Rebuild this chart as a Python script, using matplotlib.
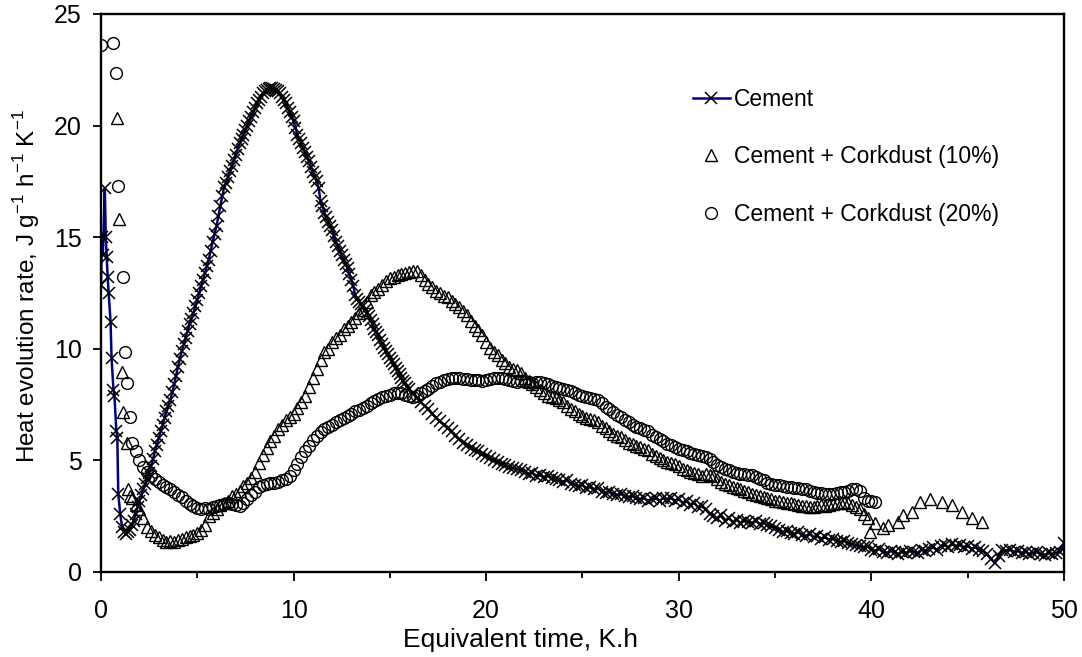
# Heat evolution rate of cement and cement + corkdust pastes

import matplotlib
matplotlib.use('Agg')
import matplotlib.pyplot as plt
from matplotlib.ticker import MultipleLocator
import numpy as np

plt.rcParams['font.family'] = ['Liberation Sans', 'DejaVu Sans']
plt.rcParams['mathtext.fontset'] = 'custom'
plt.rcParams['mathtext.rm'] = 'Liberation Sans'

# ---- Cement (plain) ----
# first minutes, irregular times
cementSpikeTime = [0.0, 0.05, 0.1, 0.2, 0.25, 0.3, 0.35, 0.4, 0.5, 0.55, 0.65, 0.7, 0.8, 0.85, 0.9, 1.0, 1.1, 1.2, 1.3]
cementSpike = [12.85, 15.0, 14.2, 17.2, 15.0, 14.1, 13.2, 12.5, 11.2, 9.6, 8.15, 7.9, 6.3, 6.0, 3.5, 2.6, 2.0, 1.8, 1.7]

# main peak, read every 0.1 h from 1.4 h
cementPeakStart = 1.4
cementPeak = [
	1.8, 1.9, 2.1, 2.3, 2.6, 2.9, 3.2, 3.45, 3.7, 3.95,
	4.2, 4.45, 4.75, 5.05, 5.4, 5.7, 6.0, 6.3, 6.6, 6.9,
	7.2, 7.45, 7.7, 8.05, 8.4, 8.8, 9.2, 9.55, 9.9, 10.2,
	10.5, 10.8, 11.1, 11.35, 11.6, 11.9, 12.2, 12.5, 12.8, 13.1,
	13.4, 13.7, 14.0, 14.4, 14.8, 15.15, 15.5, 15.95, 16.4, 16.85,
	17.25, 17.45, 17.7, 17.95, 18.2, 18.45, 18.7, 18.95, 19.2, 19.4,
	19.6, 19.8, 20.0, 20.2, 20.4, 20.6, 20.8, 21.0, 21.15, 21.3,
	21.45, 21.55, 21.6, 21.65, 21.7, 21.7, 21.65, 21.6, 21.55, 21.45,
	21.3, 21.15, 21.0, 20.8, 20.6, 20.4, 20.2, 19.9, 19.6, 19.4,
	19.2, 19.0, 18.8, 18.6, 18.4, 18.15, 17.9, 17.7, 17.5, 17.2,
	16.6, 16.4, 16.1, 15.9, 15.7, 15.5, 15.3, 15.05, 14.8, 14.6,
	14.4, 14.2, 14.0, 13.8, 13.6, 13.35, 13.1, 12.8, 12.4, 12.25,
	12.1, 12.0, 11.9, 11.75, 11.6, 11.45, 11.3, 11.1, 10.9, 10.75,
	10.6, 10.4, 10.2, 10.05, 9.9, 9.75, 9.6, 9.45, 9.3, 9.15,
	9.0, 8.85, 8.7, 8.55, 8.45, 8.3]

# tail, read every 0.2 h from 16 h
cementTailStart = 16.0
cementTail = [
	8.2, 8.0, 7.8, 7.6, 7.45, 7.3, 7.1, 6.9, 6.75, 6.6,
	6.45, 6.3, 6.1, 5.95, 5.8, 5.7, 5.55, 5.45, 5.4, 5.3,
	5.2, 5.1, 5.0, 4.95, 4.85, 4.8, 4.7, 4.65, 4.6, 4.55,
	4.5, 4.4, 4.45, 4.3, 4.35, 4.25, 4.3, 4.2, 4.15, 4.1,
	4.05, 4.1, 3.95, 3.9, 3.85, 3.9, 3.75, 3.8, 3.7, 3.75,
	3.6, 3.55, 3.6, 3.5, 3.45, 3.5, 3.4, 3.35, 3.4, 3.3,
	3.25, 3.3, 3.2, 3.25, 3.3, 3.2, 3.3, 3.25, 3.3, 3.2,
	3.25, 3.1, 3.2, 3.0, 3.1, 2.9, 2.95, 2.8, 2.6, 2.5,
	2.4, 2.55, 2.3, 2.4, 2.25, 2.35, 2.2, 2.3, 2.25, 2.2,
	2.3, 2.15, 2.2, 2.1, 2.05, 1.95, 1.9, 1.8, 1.85, 1.75,
	1.7, 1.8, 1.65, 1.6, 1.7, 1.55, 1.6, 1.5, 1.55, 1.45,
	1.5, 1.4, 1.35, 1.4, 1.3, 1.25, 1.2, 1.15, 1.1, 1.15,
	1.0, 0.95, 1.05, 0.9, 0.85, 0.95, 0.9, 0.8, 0.9, 0.85,
	0.95, 0.9, 0.85, 1.0, 0.95, 1.05, 1.1, 1.0, 1.15, 1.2,
	1.1, 1.25, 1.15, 1.2, 1.1, 1.15, 1.05, 1.1, 1.0, 0.95,
	0.8, 0.6, 0.4, 0.7, 1.0, 0.95, 1.0, 0.9, 0.95, 0.85,
	0.9, 0.8, 0.85, 0.9, 0.8, 0.75, 0.85, 0.8, 0.85, 0.9,
	1.3]

# ---- Cement + Corkdust (10%) ----
cork10SpikeTime = [0.83, 0.93, 1.1, 1.15, 1.35, 1.4, 1.5]
cork10Spike = [20.35, 15.8, 8.95, 7.15, 5.8, 3.7, 3.4]

cork10Start = 1.6
cork10 = [
	3.3, 3.0, 2.8, 2.4, 2.0, 1.85, 1.65, 1.55, 1.45, 1.35,
	1.4, 1.35, 1.45, 1.5, 1.55, 1.6, 1.65, 1.75, 1.9, 2.1,
	2.5, 2.65, 2.8, 3.0, 3.1, 3.2, 3.4, 3.5, 3.65, 3.85,
	4.0, 4.2, 4.5, 4.9, 5.25, 5.55, 5.85, 6.1, 6.4, 6.6,
	6.8, 6.95, 7.1, 7.35, 7.6, 7.9, 8.3, 8.7, 9.1, 9.5,
	9.85, 10.0, 10.3, 10.5, 10.6, 10.9, 11.0, 11.2, 11.4, 11.6,
	11.75, 12.1, 12.4, 12.55, 12.7, 12.85, 13.05, 13.15, 13.2, 13.3,
	13.35, 13.4, 13.45, 13.5, 13.5, 13.3, 13.1, 12.9, 12.75, 12.6,
	12.5, 12.35, 12.3, 12.15, 12.0, 11.85, 11.7, 11.5, 11.25, 11.0,
	10.85, 10.6, 10.3, 10.05, 9.85, 9.7, 9.5, 9.35, 9.2, 9.1,
	9.05, 8.9, 8.7, 8.55, 8.4, 8.3, 8.15, 8.0, 7.9, 7.85,
	7.8, 7.7, 7.6, 7.45, 7.3, 7.2, 7.1, 7.0, 6.9, 6.85,
	6.8, 6.7, 6.55, 6.45, 6.3, 6.2, 6.1, 6.05, 5.9, 5.8,
	5.75, 5.65, 5.6, 5.5, 5.45, 5.3, 5.2, 5.1, 5.0, 4.95,
	4.9, 4.85, 4.75, 4.6, 4.55, 4.5, 4.45, 4.4, 4.3, 4.4,
	4.35, 4.3, 4.15, 4.05, 3.95, 3.9, 3.8, 3.75, 3.7, 3.65,
	3.6, 3.5, 3.45, 3.4, 3.35, 3.3, 3.25, 3.2, 3.2, 3.15,
	3.1, 3.1, 3.05, 3.0, 2.95, 2.95, 2.9, 2.9, 2.95, 3.0,
	2.95, 3.0, 3.05, 3.1, 3.1, 3.15, 3.1, 3.0, 2.9, 2.8,
	2.6, 2.4]

# last hours, sparser readings
cork10EndTime = [39.93, 40.19, 40.62, 40.88, 41.4, 41.66, 42.09, 42.52, 43.04, 43.64, 44.16, 44.68, 45.2, 45.72]
cork10End = [1.81, 2.18, 1.96, 2.1, 2.25, 2.55, 2.7, 3.15, 3.26, 3.15, 3.0, 2.7, 2.4, 2.25]

# ---- Cement + Corkdust (20%) ----
cork20SpikeTime = [0.0, 0.65, 0.8, 0.9, 1.15, 1.25, 1.35, 1.5]
cork20Spike = [23.6, 23.7, 22.35, 17.3, 13.2, 9.85, 8.45, 6.95]

cork20Start = 1.6
cork20 = [
	5.8, 5.4, 5.0, 4.7, 4.5, 4.3, 4.15, 4.05, 3.9, 3.8,
	3.7, 3.6, 3.45, 3.35, 3.2, 3.05, 2.95, 2.85, 2.8, 2.85,
	2.8, 2.9, 2.95, 3.0, 3.05, 3.1, 3.05, 3.0, 2.95, 3.1,
	3.25, 3.45, 3.6, 3.8, 3.9, 3.95, 4.0, 4.0, 4.05, 4.1,
	4.15, 4.3, 4.55, 4.85, 5.15, 5.4, 5.65, 5.9, 6.1, 6.25,
	6.4, 6.5, 6.6, 6.7, 6.8, 6.9, 7.0, 7.1, 7.2, 7.25,
	7.35, 7.45, 7.55, 7.65, 7.75, 7.85, 7.9, 7.95, 8.0, 8.0,
	8.0, 7.95, 7.9, 7.85, 7.9, 8.0, 8.1, 8.2, 8.35, 8.45,
	8.5, 8.6, 8.65, 8.7, 8.7, 8.7, 8.65, 8.65, 8.6, 8.6,
	8.6, 8.55, 8.6, 8.65, 8.7, 8.7, 8.7, 8.65, 8.6, 8.55,
	8.5, 8.55, 8.5, 8.5, 8.45, 8.5, 8.5, 8.45, 8.4, 8.35,
	8.3, 8.25, 8.2, 8.15, 8.1, 8.0, 7.95, 7.9, 7.85, 7.8,
	7.75, 7.7, 7.55, 7.4, 7.3, 7.15, 7.05, 6.95, 6.8, 6.7,
	6.6, 6.5, 6.45, 6.35, 6.3, 6.15, 6.05, 5.95, 5.85, 5.75,
	5.7, 5.6, 5.5, 5.45, 5.4, 5.35, 5.3, 5.25, 5.2, 5.15,
	5.05, 4.95, 4.8, 4.7, 4.6, 4.55, 4.5, 4.45, 4.4, 4.4,
	4.35, 4.35, 4.25, 4.15, 4.1, 4.0, 3.95, 3.9, 3.9, 3.85,
	3.8, 3.8, 3.75, 3.75, 3.7, 3.7, 3.65, 3.6, 3.55, 3.55,
	3.5, 3.5, 3.5, 3.55, 3.6, 3.6, 3.65, 3.7, 3.7, 3.65,
	3.3, 3.2, 3.2, 3.15]

labels = ['Cement', 'Cement + Corkdust (10%)', 'Cement + Corkdust (20%)']


# Building the time vectors (readings at a fixed step)
def readingTimes(start, step, values):
	return np.round(start + step * np.arange(len(values)), 2)

cementTime = np.concatenate([cementSpikeTime, readingTimes(cementPeakStart, 0.1, cementPeak), readingTimes(cementTailStart, 0.2, cementTail)])
cementValues = np.concatenate([cementSpike, cementPeak, cementTail])

cork10Time = np.concatenate([cork10SpikeTime, readingTimes(cork10Start, 0.2, cork10), cork10EndTime])
cork10Values = np.concatenate([cork10Spike, cork10, cork10End])

cork20Time = np.concatenate([cork20SpikeTime, readingTimes(cork20Start, 0.2, cork20)])
cork20Values = np.concatenate([cork20Spike, cork20])

# Plotting
fig = plt.figure(figsize=(10.82, 6.57), dpi=100)
ax = fig.add_axes([0.0933, 0.1294, 0.8901, 0.8493])

ax.plot(cementTime, cementValues, color='#000080', linewidth=1.8, marker='x', markersize=9,
		markeredgecolor='black', markeredgewidth=1.1, label=labels[0])
ax.plot(cork10Time, cork10Values, linestyle='none', marker='^', markersize=8.5,
		markerfacecolor='none', markeredgecolor='black', markeredgewidth=1.0, label=labels[1])
ax.plot(cork20Time, cork20Values, linestyle='none', marker='o', markersize=8.5,
		markerfacecolor='none', markeredgecolor='black', markeredgewidth=1.0, label=labels[2])

ax.set_xlim(0, 50)
ax.set_ylim(0, 25)
ax.xaxis.set_major_locator(MultipleLocator(10))
ax.xaxis.set_minor_locator(MultipleLocator(5))
ax.yaxis.set_major_locator(MultipleLocator(5))

for side in ['left', 'right', 'top', 'bottom']:
	ax.spines[side].set_linewidth(1.7)

ax.tick_params(axis='x', which='major', direction='out', length=6.5, width=1.3, labelsize=18, pad=13)
ax.tick_params(axis='x', which='minor', direction='out', length=4.5, width=1.3)
ax.tick_params(axis='y', which='major', direction='out', length=6, width=1.3, labelsize=18, pad=8)

ax.set_xlabel('Equivalent time, K.h', fontsize=19)
ax.set_ylabel('Heat evolution rate, J g$^{\\mathregular{-1}}$ h$^{\\mathregular{-1}}$ K$^{\\mathregular{-1}}$',
			  fontsize=17.5)
# axis titles sit a little off-centre in the original
ax.xaxis.set_label_coords(0.436, -0.101)
ax.yaxis.set_label_coords(-0.061, 0.512)

ax.legend(loc='upper left', bbox_to_anchor=(693 / 1082, 1 - 88 / 657), bbox_transform=fig.transFigure,
		  frameon=False, fontsize=16.5, handlelength=1.6, handletextpad=0.2, labelspacing=1.5,
		  borderpad=0, borderaxespad=0)

fig.savefig('out.png', dpi=100)
